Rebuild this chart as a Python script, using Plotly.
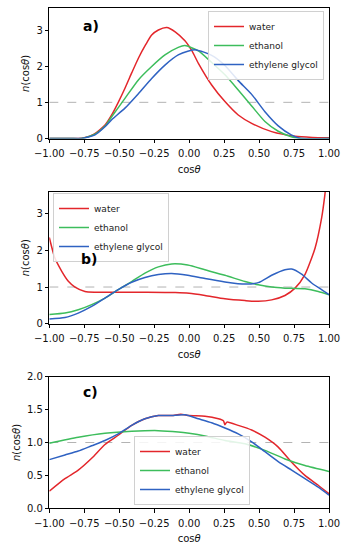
import plotly.graph_objects as go

# ---------------- data ----------------
series_names = ["water", "ethanol", "ethylene glycol"]
colors = ["#e3262b", "#3dbd5c", "#2f62c2"]

# panel a
a_water_x = [-1.0, -0.85, -0.79, -0.75, -0.68, -0.6, -0.554, -0.507, -0.459, -0.41, -0.363, -0.31, -0.268, -0.22, -0.16, -0.1, -0.03, 0.02, 0.066, 0.161, 0.256, 0.351, 0.447, 0.59, 0.757, 0.88, 1.0]
a_water_y = [0.0, 0.0, 0.0, 0.02, 0.12, 0.38, 0.65, 1.0, 1.39, 1.82, 2.22, 2.6, 2.86, 3.0, 3.07, 2.95, 2.7, 2.42, 2.08, 1.48, 1.02, 0.65, 0.42, 0.19, 0.06, 0.03, 0.02]
a_eth_x = [-1.0, -0.85, -0.77, -0.673, -0.6, -0.554, -0.459, -0.363, -0.268, -0.173, -0.078, -0.03, 0.066, 0.161, 0.256, 0.351, 0.447, 0.542, 0.637, 0.73, 0.8, 1.0]
a_eth_y = [0.0, 0.0, 0.0, 0.12, 0.35, 0.6, 1.11, 1.62, 1.99, 2.31, 2.52, 2.57, 2.42, 2.1, 1.76, 1.34, 0.9, 0.47, 0.2, 0.05, 0.0, 0.0]
a_eg_x = [-1.0, -0.85, -0.77, -0.673, -0.6, -0.554, -0.459, -0.363, -0.268, -0.173, -0.078, -0.01, 0.05, 0.161, 0.256, 0.351, 0.447, 0.542, 0.637, 0.73, 0.79, 1.0]
a_eg_y = [0.0, 0.0, 0.0, 0.1, 0.33, 0.52, 0.84, 1.24, 1.66, 2.03, 2.31, 2.41, 2.45, 2.3, 2.02, 1.6, 1.22, 0.74, 0.35, 0.1, 0.01, 0.0]

# panel b
b_water_x = [-1.0, -0.96, -0.911, -0.864, -0.816, -0.745, -0.673, -0.5, -0.3, -0.1, 0.0, 0.113, 0.256, 0.399, 0.494, 0.59, 0.685, 0.757, 0.828, 0.9, 0.947, 0.97, 1.0]
b_water_y = [2.35, 1.79, 1.43, 1.16, 1.0, 0.88, 0.86, 0.86, 0.86, 0.85, 0.83, 0.77, 0.68, 0.63, 0.61, 0.65, 0.77, 0.97, 1.34, 2.06, 2.88, 3.5, 4.6]
b_eth_x = [-1.0, -0.888, -0.793, -0.697, -0.602, -0.507, -0.411, -0.316, -0.22, -0.125, -0.01, 0.113, 0.256, 0.399, 0.494, 0.59, 0.685, 0.828, 0.923, 1.0]
b_eth_y = [0.25, 0.29, 0.38, 0.52, 0.7, 0.93, 1.15, 1.38, 1.55, 1.63, 1.6, 1.47, 1.32, 1.15, 1.06, 1.0, 0.97, 0.95, 0.88, 0.79]
b_eg_x = [-1.0, -0.888, -0.793, -0.697, -0.602, -0.507, -0.411, -0.316, -0.22, -0.125, -0.01, 0.113, 0.256, 0.399, 0.494, 0.59, 0.685, 0.733, 0.804, 0.876, 0.947, 1.0]
b_eg_y = [0.13, 0.17, 0.29, 0.47, 0.7, 0.93, 1.13, 1.26, 1.34, 1.37, 1.32, 1.23, 1.14, 1.08, 1.12, 1.32, 1.47, 1.49, 1.35, 1.11, 0.93, 0.79]

# panel c
c_water_x = [-1.0, -0.888, -0.793, -0.697, -0.602, -0.507, -0.411, -0.316, -0.22, -0.125, -0.06, 0.0, 0.113, 0.209, 0.245, 0.256, 0.27, 0.351, 0.447, 0.542, 0.637, 0.733, 0.828, 0.923, 1.0]
c_water_y = [0.26, 0.45, 0.58, 0.76, 0.97, 1.11, 1.26, 1.36, 1.41, 1.41, 1.43, 1.41, 1.4, 1.36, 1.33, 1.27, 1.31, 1.26, 1.19, 1.08, 0.93, 0.7, 0.5, 0.35, 0.22]
c_eth_x = [-1.0, -0.793, -0.602, -0.411, -0.22, -0.078, 0.0, 0.113, 0.256, 0.399, 0.542, 0.685, 0.828, 1.0]
c_eth_y = [0.99, 1.08, 1.14, 1.17, 1.18, 1.16, 1.14, 1.1, 1.03, 0.98, 0.88, 0.75, 0.65, 0.56]
c_eg_x = [-1.0, -0.888, -0.793, -0.697, -0.602, -0.507, -0.411, -0.316, -0.22, -0.125, -0.03, 0.066, 0.161, 0.256, 0.351, 0.447, 0.542, 0.637, 0.733, 0.828, 0.923, 1.0]
c_eg_y = [0.74, 0.81, 0.87, 0.95, 1.03, 1.13, 1.26, 1.36, 1.41, 1.41, 1.42, 1.36, 1.3, 1.22, 1.13, 1.01, 0.86, 0.71, 0.58, 0.45, 0.32, 0.2]

x_ticks = [-1.0, -0.75, -0.5, -0.25, 0.0, 0.25, 0.5, 0.75, 1.0]
x_ticktext = ["\u22121.00", "\u22120.75", "\u22120.50", "\u22120.25", "0.00", "0.25", "0.50", "0.75", "1.00"]
ab_yticks = [0, 1, 2, 3]
c_yticks = [0.0, 0.5, 1.0, 1.5, 2.0]
c_yticktext = ["0.0", "0.5", "1.0", "1.5", "2.0"]
panel_labels = ["a)", "b)", "c)"]

panels = [
    [(a_water_x, a_water_y), (a_eth_x, a_eth_y), (a_eg_x, a_eg_y)],
    [(b_water_x, b_water_y), (b_eth_x, b_eth_y), (b_eg_x, b_eg_y)],
    [(c_water_x, c_water_y), (c_eth_x, c_eth_y), (c_eg_x, c_eg_y)],
]

# ---------------- layout geometry ----------------
W, H = 341, 548
xdom = [49.3 / W, 329.0 / W]
ydoms = [
    [1 - 138.5 / H, 1 - 8.3 / H],
    [1 - 323.7 / H, 1 - 191.7 / H],
    [1 - 508.3 / H, 1 - 376.7 / H],
]
yranges = [[0, 3.6], [0, 3.6], [0, 2.0]]
legend_names = ["legend", "legend2", "legend3"]
label_pos = [(0.148, 0.864), (0.142, 0.49), (0.149, 0.886)]

FONT = "DejaVu Sans"
fig = go.Figure()

for p, traces in enumerate(panels):
    xa = "x" if p == 0 else f"x{p+1}"
    ya = "y" if p == 0 else f"y{p+1}"
    # reference line at 1
    fig.add_trace(go.Scatter(x=[-1.0, 1.0], y=[1, 1], mode="lines",
                             line=dict(color="#a0a0a0", width=0.8, dash="dash"),
                             xaxis=xa, yaxis=ya, showlegend=False, hoverinfo="skip"))
    for (xs, ys), name, col in zip(traces, series_names, colors):
        fig.add_trace(go.Scatter(x=xs, y=ys, mode="lines", name=name,
                                 line=dict(color=col, width=1.5, shape="spline", smoothing=0.6),
                                 xaxis=xa, yaxis=ya, legend=legend_names[p]))

axis_common = dict(showline=True, linecolor="black", linewidth=1, mirror=True,
                   ticks="outside", ticklen=3.5, tickwidth=0.8, tickcolor="black",
                   showgrid=False, zeroline=False, automargin=False,
                   tickfont=dict(family=FONT, size=10, color="#111"))

layout = dict(width=W, height=H, margin=dict(l=0, r=0, t=0, b=0, autoexpand=False),
              paper_bgcolor="white", plot_bgcolor="white",
              font=dict(family=FONT, size=10, color="#111"))

for p in range(3):
    xk = "xaxis" if p == 0 else f"xaxis{p+1}"
    yk = "yaxis" if p == 0 else f"yaxis{p+1}"
    ya = "y" if p == 0 else f"y{p+1}"
    xa = "x" if p == 0 else f"x{p+1}"
    layout[xk] = dict(axis_common, domain=xdom, range=[-1, 1], anchor=ya,
                      tickvals=x_ticks, ticktext=x_ticktext, tickangle=0, ticklabelstandoff=2,
                      title=dict(text="cos<i>θ</i>", font=dict(family=FONT, size=10), standoff=7))
    if p < 2:
        yt = dict(tickvals=ab_yticks, ticktext=[str(v) for v in ab_yticks])
    else:
        yt = dict(tickvals=c_yticks, ticktext=c_yticktext)
    layout[yk] = dict(axis_common, domain=ydoms[p], range=yranges[p], anchor=xa,
                      title=dict(text="<i>n</i>(cos<i>θ</i>)", font=dict(family=FONT, size=10), standoff=4),
                      **yt)

leg_style = dict(font=dict(family=FONT, size=9, color="#222"), bgcolor="rgba(255,255,255,0.85)",
                 bordercolor="#d0d0d0", borderwidth=1, itemwidth=30, tracegroupgap=0)
layout["legend"] = dict(leg_style, x=324 / W, xanchor="right", y=1 - 11 / H, yanchor="top")
layout["legend2"] = dict(leg_style, x=53 / W, xanchor="left", y=1 - 193 / H, yanchor="top")
layout["legend3"] = dict(leg_style, x=134 / W, xanchor="left", y=1 - 505 / H, yanchor="bottom")

annotations = []
for p, (lx, ly) in enumerate(label_pos):
    xa = "x" if p == 0 else f"x{p+1}"
    ya = "y" if p == 0 else f"y{p+1}"
    annotations.append(dict(text=f"<b>{panel_labels[p]}</b>", xref=f"{xa} domain", yref=f"{ya} domain",
                            x=lx, y=ly, xanchor="center", yanchor="middle", showarrow=False,
                            font=dict(family=FONT, size=14, color="black")))
layout["annotations"] = annotations

fig.update_layout(**layout)
fig.write_html("out.html")
